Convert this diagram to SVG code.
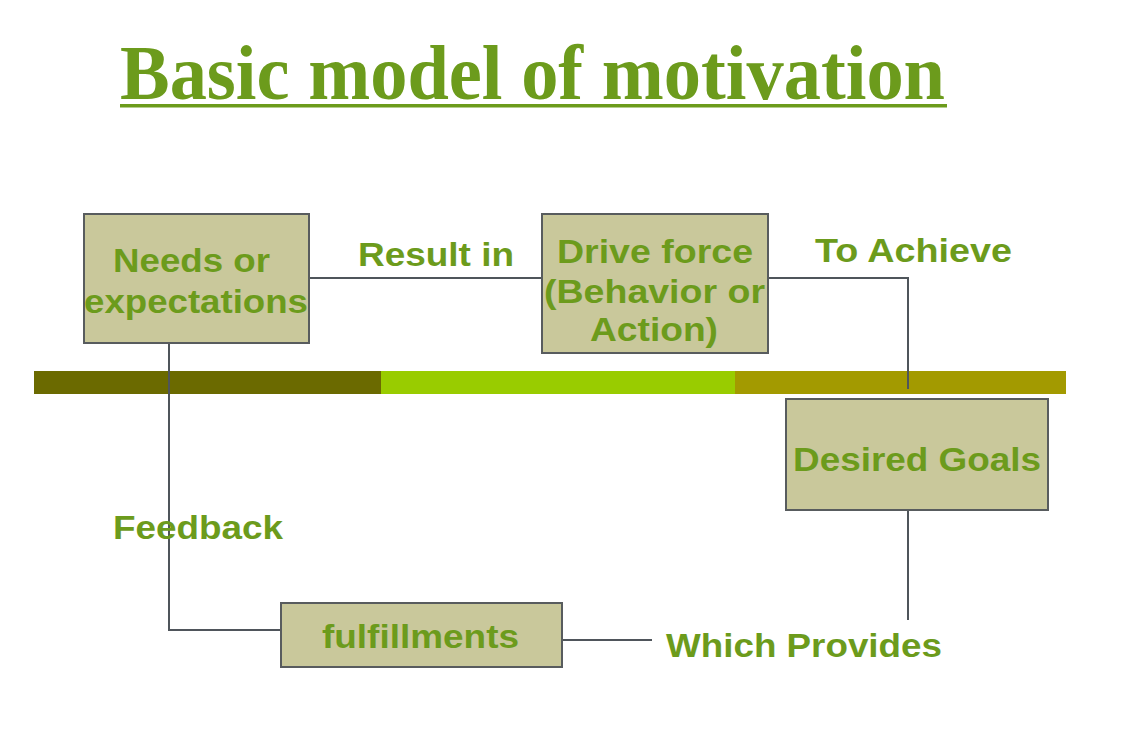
<svg xmlns="http://www.w3.org/2000/svg" width="1146" height="751" viewBox="0 0 1146 751">
  <style>
    .box { fill: #c9c89b; stroke: #585c5e; stroke-width: 2; }
    .lbl { font-family: "Liberation Sans", Arial, sans-serif; font-weight: bold; font-size: 34px; fill: #6c9b1c; }
    .title { font-family: "Liberation Serif", "Times New Roman", serif; font-weight: bold; font-size: 78px; fill: #6c9b1c; }
    .conn { fill: none; stroke: #4f555b; stroke-width: 2; }
  </style>
  <rect width="1146" height="751" fill="#ffffff"/>

  <!-- heading -->
  <g id="title">
    <text class="title" x="120" y="99" textLength="825" lengthAdjust="spacingAndGlyphs">Basic model of motivation</text>
    <rect x="120" y="104" width="827" height="3.5" fill="#6c9b1c"/>
  </g>

  <!-- divider band -->
  <g id="band">
    <rect x="34" y="371" width="347" height="23" fill="#6b6a00"/>
    <rect x="381" y="371" width="354" height="23" fill="#99cc00"/>
    <rect x="735" y="371" width="331" height="23" fill="#a39a00"/>
  </g>

  <!-- connectors -->
  <g id="connectors">
    <path class="conn" d="M309 278 H542"/>
    <path class="conn" d="M768 278 H908 V389"/>
    <path class="conn" d="M908 500 V620"/>
    <path class="conn" d="M562 640 H652"/>
    <path class="conn" d="M169 343 V630 H281"/>
  </g>

  <!-- edge labels -->
  <g id="labels">
    <text class="lbl" x="358" y="266" textLength="156" lengthAdjust="spacingAndGlyphs">Result in</text>
    <text class="lbl" x="815" y="262" textLength="197" lengthAdjust="spacingAndGlyphs">To Achieve</text>
    <text class="lbl" x="113" y="539" textLength="170" lengthAdjust="spacingAndGlyphs">Feedback</text>
    <text class="lbl" x="666" y="657" textLength="276" lengthAdjust="spacingAndGlyphs">Which Provides</text>
  </g>

  <g id="needs">
    <rect class="box" x="84" y="214" width="225" height="129"/>
    <text class="lbl" x="113" y="272" textLength="157" lengthAdjust="spacingAndGlyphs">Needs or</text>
    <text class="lbl" x="84" y="313" textLength="224" lengthAdjust="spacingAndGlyphs">expectations</text>
  </g>

  <g id="drive">
    <rect class="box" x="542" y="214" width="226" height="139"/>
    <text class="lbl" x="557" y="263" textLength="196" lengthAdjust="spacingAndGlyphs">Drive force</text>
    <text class="lbl" x="544" y="303" textLength="221" lengthAdjust="spacingAndGlyphs">(Behavior or</text>
    <text class="lbl" x="590" y="341" textLength="128" lengthAdjust="spacingAndGlyphs">Action)</text>
  </g>

  <g id="goals">
    <rect class="box" x="786" y="399" width="262" height="111"/>
    <text class="lbl" x="793" y="471" textLength="248" lengthAdjust="spacingAndGlyphs">Desired Goals</text>
  </g>

  <g id="fulfillments">
    <rect class="box" x="281" y="603" width="281" height="64"/>
    <text class="lbl" x="322" y="648" textLength="197" lengthAdjust="spacingAndGlyphs">fulfillments</text>
  </g>
</svg>
